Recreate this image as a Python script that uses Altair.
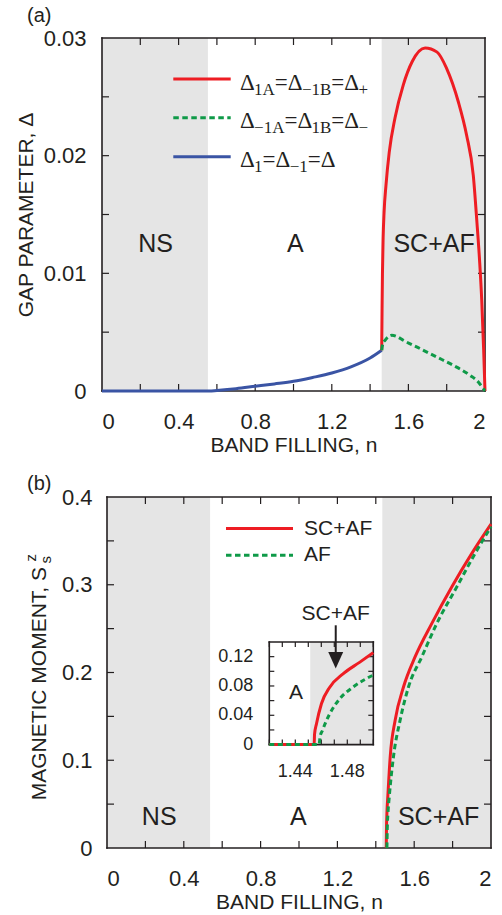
import altair as alt
import pandas as pd

FONT = "Liberation Sans"
SERIF = "Liberation Serif"
INK = "#231f20"
RED = "#ee1d23"
GREEN = "#0f9a48"
BLUE = "#3a54a4"
SHADE = "#e5e5e5"

# ---------------- panel (a) data ----------------
a_xlabels = [0, 0.4, 0.8, 1.2, 1.6, 2]
a_xticks = [0.2, 0.4, 0.6, 0.8, 1.0, 1.2, 1.4, 1.6, 1.8]
a_ylabels = [0, 0.01, 0.02, 0.03]
a_yticks = [0.005, 0.01, 0.015, 0.02, 0.025]
a_ns_end = 0.553
a_sc_start = 1.4606

a_blue_n = [0.0, 0.2, 0.4, 0.56, 0.6, 0.7, 0.8, 0.9, 1.0, 1.1, 1.2, 1.3, 1.4, 1.4606]
a_blue_v = [0, 0, 0, 0, 0.00005, 0.0002, 0.0004, 0.0006, 0.00082, 0.00115, 0.00153, 0.00205, 0.0028, 0.00346]
a_red_n = [1.4606, 1.4625, 1.4645, 1.468, 1.473, 1.483, 1.50, 1.53, 1.573, 1.62, 1.687,
           1.75, 1.80, 1.861, 1.904, 1.939, 1.958, 1.972, 1.983, 1.993, 2.0]
a_red_v = [0.00346, 0.007, 0.010, 0.013, 0.0152, 0.0175, 0.0203, 0.0232, 0.0260, 0.0280, 0.02915,
           0.0288, 0.0274, 0.02456, 0.02173, 0.0183, 0.0143, 0.011, 0.0077, 0.0035, 0.0]
a_green_n = [1.4606, 1.466, 1.478, 1.495, 1.513, 1.54, 1.573, 1.661, 1.748, 1.835, 1.922, 1.965, 1.991, 2.0]
a_green_v = [0.00346, 0.0040, 0.00431, 0.0046, 0.00473, 0.00462, 0.00431, 0.0036, 0.00289, 0.00218,
             0.00133, 0.00077, 0.0002, 0.0]
a_regions = ["NS", "A", "SC+AF"]
a_region_n = [0.28, 1.01, 1.734]
a_region_v = [0.0125, 0.0125, 0.0125]

# legend label segments (text, is_subscript)
a_leg = [
    [("Δ", 0), ("1A", 1), ("=", 0), ("Δ", 0), ("−1B", 1), ("=", 0), ("Δ", 0), ("+", 1)],
    [("Δ", 0), ("−1A", 1), ("=", 0), ("Δ", 0), ("1B", 1), ("=", 0), ("Δ", 0), ("−", 1)],
    [("Δ", 0), ("1", 1), ("=", 0), ("Δ", 0), ("−1", 1), ("=", 0), ("Δ", 0)],
]
a_leg_colors = [RED, GREEN, BLUE]
a_leg_dash = [False, True, False]

# ---------------- panel (b) data ----------------
b_xlabels = [0, 0.4, 0.8, 1.2, 1.6, 2]
b_xticks = [0.2, 0.4, 0.6, 0.8, 1.0, 1.2, 1.4, 1.6, 1.8]
b_ylabels = [0, 0.1, 0.2, 0.3, 0.4]
b_yticks = [0.05, 0.1, 0.15, 0.2, 0.25, 0.3, 0.35]
b_ns_end = 0.537
b_sc_start = 1.434

b_red_n = [1.4545, 1.4555, 1.458, 1.463, 1.475, 1.501, 1.545, 1.605, 1.692, 1.797, 1.901, 2.0]
b_red_v = [0, 0.02, 0.04, 0.06, 0.104, 0.146, 0.184, 0.218, 0.256, 0.298, 0.336, 0.369]
b_green_n = [1.458, 1.4595, 1.4635, 1.470, 1.492, 1.527, 1.571, 1.640, 1.718, 1.823, 1.918, 2.0]
b_green_v = [0, 0.02, 0.04, 0.058, 0.104, 0.146, 0.184, 0.218, 0.256, 0.298, 0.336, 0.366]
b_regions = ["NS", "A", "SC+AF"]
b_region_n = [0.272, 0.997, 1.727]
b_region_v = [0.035, 0.035, 0.035]
b_leg = ["SC+AF", "AF"]

# inset
i_xlabels = [1.44, 1.48]
i_xticks = [1.42, 1.43, 1.44, 1.45, 1.46, 1.47, 1.48, 1.49, 1.50]
i_ylabels = [0, 0.04, 0.08, 0.12]
i_yticks = [0.02, 0.04, 0.06, 0.08, 0.10, 0.12]
i_sc_start = 1.4515
i_red_n = [1.42, 1.4545, 1.4548, 1.4563, 1.4601, 1.4665, 1.4767, 1.4894, 1.50]
i_red_v = [0, 0, 0.014, 0.0285, 0.0557, 0.0783, 0.0965, 0.1122, 0.1255]
i_green_n = [1.42, 1.4583, 1.4590, 1.4609, 1.4665, 1.4742, 1.4843, 1.50]
i_green_v = [0, 0, 0.010, 0.0194, 0.042, 0.0625, 0.0783, 0.0950]
i_arrow_n = 1.4711
i_A_n, i_A_v = 1.4406, 0.07

# ---------------- layout constants ----------------
W1, H1 = 383, 353
W2, H2 = 389, 351
XB_RANGE = [5, 389]
I_XRANGE = [167.3, 271.3]
I_YRANGE = [247.6, 145]
TICK = 7
ITICK = 5
one = pd.DataFrame({"k": [0]})

SERIF_W = {"Δ": 0.613, "=": 0.564, "1": 0.5, "A": 0.722, "B": 0.667, "−": 0.564, "+": 0.564}


def line_df(n, v):
    return pd.DataFrame({"n": n, "v": v})


def frame_df(x0, x1, y0, y1):
    return pd.DataFrame({"n": [x0, x0, x0, x1], "n2": [x1, x1, x0, x1],
                         "v": [y0, y1, y0, y0], "v2": [y0, y1, y1, y1]})


def vtext(txt, x, y, size, align="left", baseline="alphabetic", font=FONT, angle=None):
    kw = dict(font=font, fontSize=size, align=align, baseline=baseline, color=INK)
    if angle is not None:
        kw["angle"] = angle
    return alt.Chart(one).mark_text(**kw).encode(x=alt.value(x), y=alt.value(y), text=alt.value(txt))


def seg_marks(segments, x0, base_y, main_size=23, sub_size=17, sub_shift=5):
    marks = []
    x = x0
    for txt, is_sub in segments:
        size = sub_size if is_sub else main_size
        y = base_y + (sub_shift if is_sub else 0)
        marks.append(vtext(txt, x, y, size, font=SERIF))
        x += sum(SERIF_W.get(c, 0.5) for c in txt) * size
    return marks


def panel(xs, ys, W, H, xr0, xr1, ymax, xticks, yticks, shade, curves, regions, region_size):
    X, Y = xs, ys
    L = []
    L.append(alt.Chart(pd.DataFrame({"n": [0, shade[1]], "n2": [shade[0], 2],
                                     "v": [0, 0], "v2": [ymax, ymax]}))
             .mark_rect(color=SHADE).encode(x=X(), x2="n2", y=Y(), y2="v2"))
    tdx = pd.DataFrame({"n": xticks})
    tdy = pd.DataFrame({"v": yticks})
    L.append(alt.Chart(tdx).mark_rule(color=INK, strokeWidth=1.2)
             .encode(x=X(), y=alt.value(H), y2=alt.value(H - TICK)))
    L.append(alt.Chart(tdx).mark_rule(color=INK, strokeWidth=1.2)
             .encode(x=X(), y=alt.value(0), y2=alt.value(TICK)))
    L.append(alt.Chart(tdy).mark_rule(color=INK, strokeWidth=1.2)
             .encode(y=Y(), x=alt.value(xr0), x2=alt.value(xr0 + TICK)))
    L.append(alt.Chart(tdy).mark_rule(color=INK, strokeWidth=1.2)
             .encode(y=Y(), x=alt.value(xr1), x2=alt.value(xr1 - TICK)))
    L.append(alt.Chart(frame_df(0, 2, 0, ymax)).mark_rule(color=INK, strokeWidth=1.6, strokeCap="square")
             .encode(x=X(), x2="n2", y=Y(), y2="v2"))
    for n, v, col, dash in curves:
        kw = dict(color=col, strokeWidth=3, interpolate="monotone")
        if dash:
            kw["strokeDash"] = [5.5, 3.5]
        L.append(alt.Chart(line_df(n, v)).mark_line(**kw).encode(x=X(), y=Y()))
    L.append(alt.Chart(pd.DataFrame({"n": regions[1], "v": regions[2], "label": regions[0]}))
             .mark_text(font=FONT, fontSize=region_size, color=INK, baseline="middle", align="center")
             .encode(x=X(), y=Y(), text="label:N"))
    return L


# ---------------- panel (a) ----------------
ax_ax = alt.Axis(values=a_xlabels, format="~g", title="BAND FILLING, n", labelPadding=20, titlePadding=2)
ax_ay = alt.Axis(values=a_ylabels, format="~g", title="GAP PARAMETER, Δ", labelPadding=16, titlePadding=7)


def XA(f="n"):
    return alt.X(f"{f}:Q", scale=alt.Scale(domain=[0, 2], nice=False), axis=ax_ax)


def YA(f="v"):
    return alt.Y(f"{f}:Q", scale=alt.Scale(domain=[0, 0.03], nice=False), axis=ax_ay)


layers_a = panel(XA, YA, W1, H1, 0, W1, 0.03, a_xticks, a_yticks, (a_ns_end, a_sc_start),
                 [(a_blue_n, a_blue_v, BLUE, False), (a_red_n, a_red_v, RED, False),
                  (a_green_n, a_green_v, GREEN, True)],
                 (a_regions, a_region_n, a_region_v), 25)
leg_y = [41, 79.7, 118.7]
for segs, col, dash, ly in zip(a_leg, a_leg_colors, a_leg_dash, leg_y):
    kw = dict(color=col, strokeWidth=3)
    if dash:
        kw["strokeDash"] = [5.5, 3.5]
    layers_a.append(alt.Chart(one).mark_rule(**kw).encode(
        x=alt.value(71.3), x2=alt.value(128.7), y=alt.value(ly)))
    layers_a += seg_marks(segs, 138, ly + 10.7)
layers_a.append(vtext("(a)", -75, -16, 20))
# layout anchors (white)
layers_a.append(alt.Chart(one).mark_rule(color="white", strokeWidth=1).encode(
    x=alt.value(-101.5), y=alt.value(-37.5), y2=alt.value(-37)))
layers_a.append(alt.Chart(one).mark_rule(color="white", strokeWidth=1).encode(
    x=alt.value(0.5), y=alt.value(423), y2=alt.value(423.5)))
top = alt.layer(*layers_a).properties(width=W1, height=H1)

# ---------------- panel (b) ----------------
ax_bx = alt.Axis(values=b_xlabels, format="~g", title="BAND FILLING, n", labelPadding=20, titlePadding=2)
ax_by = alt.Axis(values=b_ylabels, format="~g", title=None, labelPadding=10)


def XB(f="n"):
    return alt.X(f"{f}:Q", scale=alt.Scale(domain=[0, 2], range=XB_RANGE, nice=False), axis=ax_bx)


def YB(f="v"):
    return alt.Y(f"{f}:Q", scale=alt.Scale(domain=[0, 0.4], nice=False), axis=ax_by)


layers_b = panel(XB, YB, W2, H2, XB_RANGE[0], XB_RANGE[1], 0.4, b_xticks, b_yticks, (b_ns_end, b_sc_start),
                 [(b_red_n, b_red_v, RED, False), (b_green_n, b_green_v, GREEN, True)],
                 (b_regions, b_region_n, b_region_v), 25)
for lab, col, dash, ly in zip(b_leg, [RED, GREEN], [False, True], [31.6, 58.3]):
    kw = dict(color=col, strokeWidth=3)
    if dash:
        kw["strokeDash"] = [5.5, 3.5]
    layers_b.append(alt.Chart(one).mark_rule(**kw).encode(
        x=alt.value(124), x2=alt.value(191), y=alt.value(ly)))
    layers_b.append(vtext(lab, 202, ly, 21, baseline="middle"))
# y title with sub/superscript
bx, by = -56, 303.3
main_title = "MAGNETIC MOMENT, S"
layers_b.append(vtext(main_title, bx, by, 21, angle=270))
title_w = 11.223 * 21
layers_b.append(vtext("s", bx + 4.5, by - title_w - 1, 15, angle=270))
layers_b.append(vtext("z", bx - 10.5, by - title_w - 3, 15, angle=270))
layers_b.append(vtext("(b)", -75, -6.7, 20))
layers_b.append(alt.Chart(one).mark_rule(color="white", strokeWidth=1).encode(
    x=alt.value(0.5), y=alt.value(-34.2), y2=alt.value(-33.7)))
bottom_main = alt.layer(*layers_b)

# ---------------- inset ----------------
def XI(f="n"):
    return alt.X(f"{f}:Q", scale=alt.Scale(domain=[1.42, 1.50], range=I_XRANGE, nice=False, zero=False), axis=None)


def YI(f="v"):
    return alt.Y(f"{f}:Q", scale=alt.Scale(domain=[0, 0.14], range=I_YRANGE, nice=False), axis=None)


L = []
L.append(alt.Chart(pd.DataFrame({"n": [i_sc_start], "n2": [1.50], "v": [0], "v2": [0.14]}))
         .mark_rect(color=SHADE).encode(x=XI(), x2="n2", y=YI(), y2="v2"))
tix = pd.DataFrame({"n": i_xticks})
tiy = pd.DataFrame({"v": i_yticks})
L.append(alt.Chart(tix).mark_rule(color=INK, strokeWidth=1.2)
         .encode(x=XI(), y=alt.value(I_YRANGE[0]), y2=alt.value(I_YRANGE[0] - ITICK)))
L.append(alt.Chart(tix).mark_rule(color=INK, strokeWidth=1.2)
         .encode(x=XI(), y=alt.value(I_YRANGE[1]), y2=alt.value(I_YRANGE[1] + ITICK)))
L.append(alt.Chart(tiy).mark_rule(color=INK, strokeWidth=1.2)
         .encode(y=YI(), x=alt.value(I_XRANGE[0]), x2=alt.value(I_XRANGE[0] + ITICK)))
L.append(alt.Chart(tiy).mark_rule(color=INK, strokeWidth=1.2)
         .encode(y=YI(), x=alt.value(I_XRANGE[1]), x2=alt.value(I_XRANGE[1] - ITICK)))
L.append(alt.Chart(frame_df(1.42, 1.50, 0, 0.14)).mark_rule(color=INK, strokeWidth=1.6, strokeCap="square")
         .encode(x=XI(), x2="n2", y=YI(), y2="v2"))
L.append(alt.Chart(line_df(i_red_n, i_red_v)).mark_line(color=RED, strokeWidth=3, interpolate="monotone")
         .encode(x=XI(), y=YI()))
L.append(alt.Chart(line_df(i_green_n, i_green_v)).mark_line(color=GREEN, strokeWidth=3, strokeDash=[5, 3.5],
                                                             interpolate="monotone")
         .encode(x=XI(), y=YI()))
L.append(alt.Chart(pd.DataFrame({"n": i_xlabels, "lab": ["1.44", "1.48"]}))
         .mark_text(font=FONT, fontSize=18, color=INK, align="center", baseline="middle")
         .encode(x=XI(), y=alt.value(275.3), text="lab:N"))
L.append(alt.Chart(pd.DataFrame({"v": i_ylabels, "lab": ["0", "0.04", "0.08", "0.12"]}))
         .mark_text(font=FONT, fontSize=18, color=INK, align="right", baseline="middle")
         .encode(y=YI(), x=alt.value(151.3), text="lab:N"))
L.append(alt.Chart(pd.DataFrame({"n": [i_A_n], "v": [i_A_v], "lab": ["A"]}))
         .mark_text(font=FONT, fontSize=21, color=INK, align="center", baseline="middle")
         .encode(x=XI(), y=YI(), text="lab:N"))
arrow = pd.DataFrame({"n": [i_arrow_n], "lab": ["SC+AF"]})
L.append(alt.Chart(arrow).mark_rule(color=INK, strokeWidth=2)
         .encode(x=XI(), y=alt.value(128.3), y2=alt.value(157)))
L.append(alt.Chart(arrow).mark_point(shape="M-0.9,-1L0.9,-1L0,1Z", size=276, filled=True, color=INK, opacity=1)
         .encode(x=XI(), y=alt.value(163.3)))
L.append(alt.Chart(arrow).mark_text(font=FONT, fontSize=21, color=INK, align="center", baseline="middle")
         .encode(x=XI(), y=alt.value(116.6), text="lab:N"))
inset = alt.layer(*L)

bottom = alt.layer(bottom_main, inset).resolve_scale(x="independent", y="independent").properties(
    width=W2, height=H2)

chart = (
    alt.vconcat(top, bottom, spacing=0)
    .properties(padding=0)
    .configure_view(strokeWidth=0)
    .configure_axis(grid=False, domain=False, ticks=False, labelFont=FONT, titleFont=FONT,
                    labelFontSize=22, titleFontSize=21, labelColor=INK, titleColor=INK,
                    titleFontWeight="normal")
)
chart.save("out.html", embed_options={"renderer": "svg", "actions": False})
